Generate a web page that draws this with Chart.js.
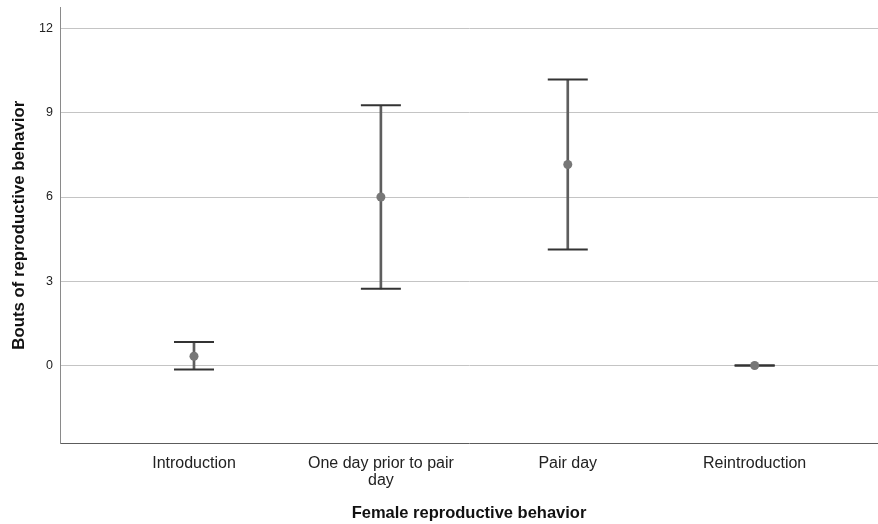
<!DOCTYPE html>
<html>
<head>
<meta charset="utf-8">
<script src="https://cdn.jsdelivr.net/npm/chart.js@4.4.1/dist/chart.umd.min.js"></script>
<style>
  html, body { margin: 0; padding: 0; background: #fff; }
  canvas { display: block; }
</style>
</head>
<body>
<canvas id="chart" width="878" height="524"></canvas>
<script>
  // categories on the x axis
  const categories = ["Introduction", ["One day prior to pair", "day"], "Pair day", "Reintroduction"];
  // mean and error bar ends
  const means = [0.33, 6.0, 7.16, 0.0];
  const upper = [0.84, 9.27, 10.19, 0.0];
  const lower = [-0.14, 2.73, 4.13, 0.0];
  const yTicks = [0, 3, 6, 9, 12];

  const idx = categories.map((_, i) => i);

  function noPad(s) {
    s.paddingTop = 0; s.paddingBottom = 0; s.paddingLeft = 0; s.paddingRight = 0;
  }

  const ctx = document.getElementById("chart").getContext("2d");
  new Chart(ctx, {
    type: "scatter",
    data: {
      datasets: [
        {
          type: "bar",
          label: "range",
          data: idx.map((i) => ({ x: i, y: [lower[i], upper[i]] })),
          backgroundColor: "#5e5e5e",
          borderWidth: 0,
          barThickness: 2,
          order: 3,
        },
        {
          label: "upper",
          data: idx.map((i) => ({ x: i, y: upper[i] })),
          pointStyle: "line",
          pointRadius: 20,
          pointHoverRadius: 20,
          borderColor: "#333333",
          pointBorderWidth: 2,
          order: 2,
        },
        {
          label: "lower",
          data: idx.map((i) => ({ x: i, y: lower[i] })),
          pointStyle: "line",
          pointRadius: 20,
          pointHoverRadius: 20,
          borderColor: "#333333",
          pointBorderWidth: 2,
          order: 2,
        },
        {
          label: "mean",
          data: idx.map((i) => ({ x: i, y: means[i] })),
          pointStyle: "circle",
          pointRadius: 4.5,
          backgroundColor: "#777777",
          borderColor: "#777777",
          borderWidth: 0,
          order: 1,
        },
      ],
    },
    options: {
      responsive: false,
      animation: false,
      events: [],
      layout: { autoPadding: false, padding: { top: 7, right: 0, bottom: 0, left: 0 } },
      plugins: { legend: { display: false }, tooltip: { enabled: false } },
      scales: {
        x: {
          type: "linear",
          offset: false,
          min: -0.717,
          max: 3.66,
          afterBuildTicks: (s) => { s.ticks = idx.map((v) => ({ value: v })); },
          afterFit: (s) => { s.height = 80.5; noPad(s); },
          grid: { display: false, drawTicks: false, offset: false },
          border: { display: true, color: "#5c5c5c", width: 1 },
          ticks: {
            padding: 11,
            maxRotation: 0,
            autoSkip: false,
            color: "#222",
            font: { family: "'Liberation Sans', Arial, sans-serif", size: 16, lineHeight: 1.1 },
            callback: (v) => categories[v],
          },
          title: {
            display: true,
            text: "Female reproductive behavior",
            color: "#111",
            font: { family: "'Liberation Sans', Arial, sans-serif", size: 16.5, weight: "bold" },
            padding: { top: 0, bottom: 1 },
          },
        },
        y: {
          min: -2.78,
          max: 12.77,
          afterBuildTicks: (s) => { s.ticks = yTicks.map((v) => ({ value: v })); },
          afterFit: (s) => { s.width = 60; noPad(s); },
          grid: { color: "#c4c4c4", lineWidth: 1, drawTicks: false },
          border: { display: true, color: "#8a8a8a", width: 1 },
          ticks: {
            padding: 7,
            color: "#222",
            font: { family: "'Liberation Sans', Arial, sans-serif", size: 12.5 },
          },
          title: {
            display: true,
            text: "Bouts of reproductive behavior",
            color: "#111",
            font: { family: "'Liberation Sans', Arial, sans-serif", size: 16.8, weight: "bold" },
            padding: { top: 9, bottom: 0 },
          },
        },
      },
    },
  });
</script>
</body>
</html>
